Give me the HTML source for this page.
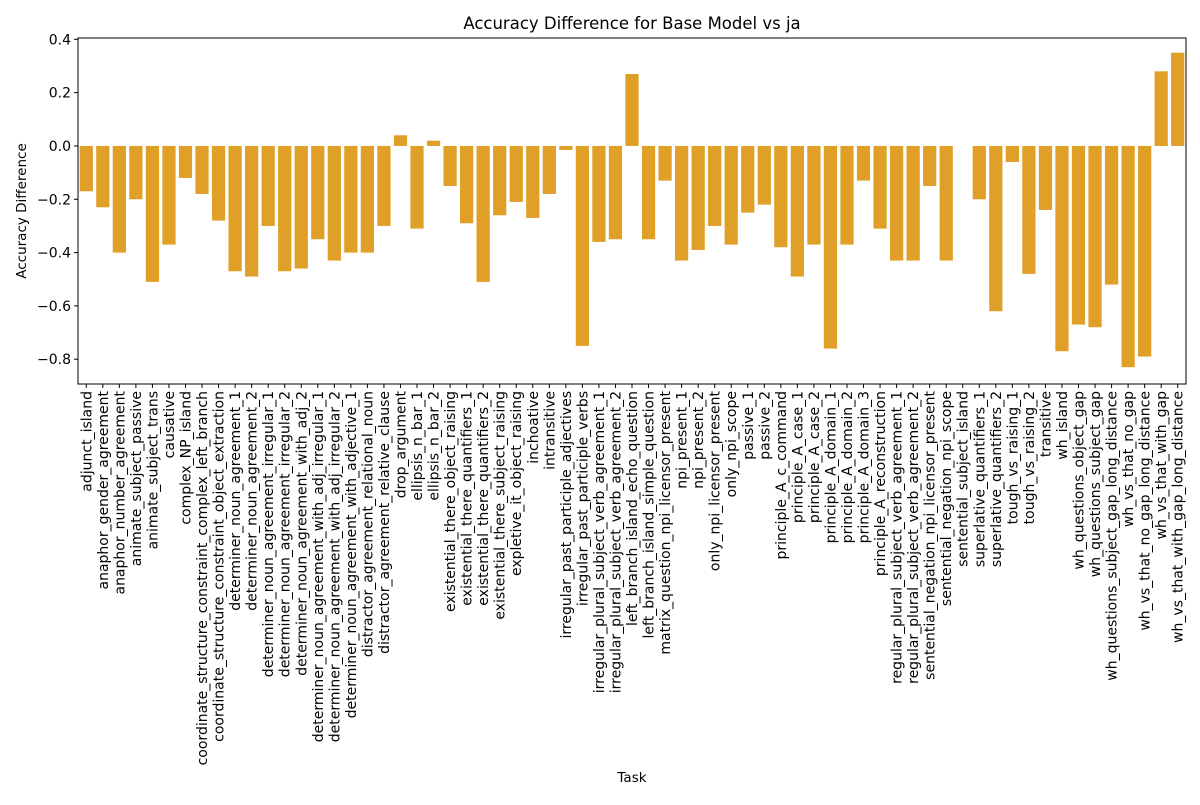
<!DOCTYPE html>
<html><head><meta charset="utf-8"><style>
body{margin:0;background:#fff;font-family:"Liberation Sans","DejaVu Sans",sans-serif}
svg text{font-family:"DejaVu Sans","Liberation Sans",sans-serif;fill:#000}
</style></head><body>
<svg id="chart" width="1200" height="800" xmlns="http://www.w3.org/2000/svg">
<rect width="1200" height="800" fill="#fff"/>
<text x="632" y="29" font-size="16.5" text-anchor="middle">Accuracy Difference for Base Model vs ja</text>
<text transform="translate(26,211) rotate(-90)" font-size="13.5" text-anchor="middle">Accuracy Difference</text>
<text x="632" y="782" font-size="13.5" text-anchor="middle">Task</text>
<g id="bars"></g><g id="axes"></g>
</svg>
<script>
const categories=["adjunct_island","anaphor_gender_agreement","anaphor_number_agreement","animate_subject_passive","animate_subject_trans","causative","complex_NP_island","coordinate_structure_constraint_complex_left_branch","coordinate_structure_constraint_object_extraction","determiner_noun_agreement_1","determiner_noun_agreement_2","determiner_noun_agreement_irregular_1","determiner_noun_agreement_irregular_2","determiner_noun_agreement_with_adj_2","determiner_noun_agreement_with_adj_irregular_1","determiner_noun_agreement_with_adj_irregular_2","determiner_noun_agreement_with_adjective_1","distractor_agreement_relational_noun","distractor_agreement_relative_clause","drop_argument","ellipsis_n_bar_1","ellipsis_n_bar_2","existential_there_object_raising","existential_there_quantifiers_1","existential_there_quantifiers_2","existential_there_subject_raising","expletive_it_object_raising","inchoative","intransitive","irregular_past_participle_adjectives","irregular_past_participle_verbs","irregular_plural_subject_verb_agreement_1","irregular_plural_subject_verb_agreement_2","left_branch_island_echo_question","left_branch_island_simple_question","matrix_question_npi_licensor_present","npi_present_1","npi_present_2","only_npi_licensor_present","only_npi_scope","passive_1","passive_2","principle_A_c_command","principle_A_case_1","principle_A_case_2","principle_A_domain_1","principle_A_domain_2","principle_A_domain_3","principle_A_reconstruction","regular_plural_subject_verb_agreement_1","regular_plural_subject_verb_agreement_2","sentential_negation_npi_licensor_present","sentential_negation_npi_scope","sentential_subject_island","superlative_quantifiers_1","superlative_quantifiers_2","tough_vs_raising_1","tough_vs_raising_2","transitive","wh_island","wh_questions_object_gap","wh_questions_subject_gap","wh_questions_subject_gap_long_distance","wh_vs_that_no_gap","wh_vs_that_no_gap_long_distance","wh_vs_that_with_gap","wh_vs_that_with_gap_long_distance"];
const values=[-0.17,-0.23,-0.40,-0.20,-0.51,-0.37,-0.12,-0.18,-0.28,-0.47,-0.49,-0.30,-0.47,-0.46,-0.35,-0.43,-0.40,-0.40,-0.30,0.04,-0.31,0.02,-0.15,-0.29,-0.51,-0.26,-0.21,-0.27,-0.18,-0.015,-0.75,-0.36,-0.35,0.27,-0.35,-0.13,-0.43,-0.39,-0.30,-0.37,-0.25,-0.22,-0.38,-0.49,-0.37,-0.76,-0.37,-0.13,-0.31,-0.43,-0.43,-0.15,-0.43,0,-0.20,-0.62,-0.06,-0.48,-0.24,-0.77,-0.67,-0.68,-0.52,-0.83,-0.79,0.28,0.35];
const yTicks=[0.4,0.2,0.0,-0.2,-0.4,-0.6,-0.8];
const yTickLabels=["0.4","0.2","0.0","\u22120.2","\u22120.4","\u22120.6","\u22120.8"];
const L=78,R=1186,T=38,B=384,yMin=-0.893,yMax=0.405;
const NS="http://www.w3.org/2000/svg";
const n=categories.length,step=(R-L)/n;
const x=i=>L+step*(i+0.5);
const y=v=>T+(yMax-v)/(yMax-yMin)*(B-T);
const bars=document.getElementById('bars'),axes=document.getElementById('axes');
function mk(t,a,p){const e=document.createElementNS(NS,t);for(const k in a)e.setAttribute(k,a[k]);p.appendChild(e);return e;}
values.forEach((v,i)=>{
 const r=mk('rect',{x:x(i)-step*0.4,width:step*0.8,y:Math.min(y(v),y(0)),height:Math.abs(y(v)-y(0)),fill:'#e09f26'},bars);
 
 
});
const frame=mk('rect',{x:L,y:T,width:R-L,height:B-T,fill:'none',stroke:'#000','stroke-width':1},axes);


yTicks.forEach((v,i)=>{
 mk('line',{x1:L-4,x2:L,y1:y(v),y2:y(v),stroke:'#000'},axes);
 const t=mk('text',{x:L-7,y:y(v)+5,'font-size':'14','text-anchor':'end'},axes);
 t.textContent=yTickLabels[i];
 
 
});
categories.forEach((c,i)=>{
 mk('line',{x1:x(i),x2:x(i),y1:B,y2:B+4,stroke:'#000'},axes);
 const t=mk('text',{transform:`translate(${x(i)+5},${B+7}) rotate(-90)`,'font-size':'14','text-anchor':'end'},axes);
 t.textContent=c;
 
 
});
</script>
</body></html>
